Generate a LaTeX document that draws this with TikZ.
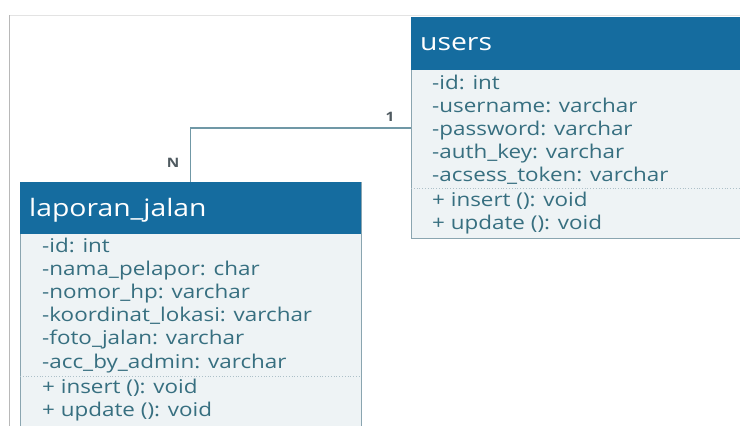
\documentclass[tikz,border=0pt]{standalone}
\usepackage{fontspec}
\setmainfont{Open Sans}
\newfontfamily\umlfont{Open Sans}[FakeStretch=1.18]
\definecolor{headblue}{HTML}{156C9F}
\definecolor{bodyfill}{HTML}{EEF3F5}
\definecolor{boxline}{HTML}{8AA5B0}
\definecolor{attrtext}{HTML}{376F80}
\definecolor{connline}{HTML}{7098A6}
\definecolor{framegray}{HTML}{B8B8B8}
\definecolor{labelgray}{HTML}{4F5A60}
\begin{document}
\begin{tikzpicture}[x=1pt,y=-1pt,
  classbody/.style={draw=boxline, line width=1pt, fill=bodyfill, inner sep=0pt, anchor=north west},
  classhead/.style={fill=headblue, inner sep=0pt, anchor=north west},
  classtitle/.style={text=white, font=\umlfont\fontsize{24}{24}\selectfont, inner sep=0pt, anchor=base west},
  attr/.style={text=attrtext, font=\umlfont\fontsize{19}{19}\selectfont, inner sep=0pt, anchor=base west},
  divider/.style={draw=boxline!70, line width=0.8pt, dotted},
  conn/.style={draw=connline, line width=1.1pt},
  mult/.style={text=labelgray, font=\umlfont\fontsize{13}{13}\selectfont\bfseries, inner sep=0pt}
]
\useasboundingbox (0,0) rectangle (740,426);
\begin{scope}
\clip (0,0) rectangle (740,426);
\fill[white] (0,0) rectangle (740,426);
% page frame
\draw[framegray!40, line width=0.8pt] (9.5,15) -- (740,15);
\draw[framegray, line width=1.2pt] (9.5,426) -- (9.5,15);

% class: users
\node[classbody, minimum width=345pt, minimum height=221pt] (users) at (410.5,17) {};
\node[classhead, minimum width=345pt, minimum height=53pt] (usershead) at (users.north west) {};
\node[classtitle] (userstitle) at (420,50) {users};
\foreach \t [count=\i] in {{-id: int},{-username: varchar},{-password: varchar},{-auth\_key: varchar},{-acsess\_token: varchar}}
  \node[attr] (ua\i) at (432,{89+23*(\i-1)}) {\t};
\draw[divider] (411,188.5) -- (740,188.5);
\node[attr] (um1) at (432,206) {+ insert (): void};
\node[attr] (um2) at (432,229) {+ update (): void};

% class: laporan_jalan
\node[classbody, minimum width=341pt, minimum height=270pt] (lap) at (19.5,182) {};
\node[classhead, minimum width=341pt, minimum height=52pt] (laphead) at (lap.north west) {};
\node[classtitle] (laptitle) at (29,216) {laporan\_jalan};
\foreach \t [count=\i] in {{-id: int},{-nama\_pelapor: char},{-nomor\_hp: varchar},{-koordinat\_lokasi: varchar},{-foto\_jalan: varchar},{-acc\_by\_admin: varchar}}
  \node[attr] (la\i) at (42,{252+23.2*(\i-1)}) {\t};
\draw[divider] (20,376.5) -- (360,376.5);
\node[attr] (lm1) at (42,393) {+ insert (): void};
\node[attr] (lm2) at (42,416.5) {+ update (): void};

% association
\draw[conn] (lap.north) |- (users.west);
\node[mult] (multn) at (173,163) {N};
\node[mult] (mult1) at (390,117) {1};
\end{scope}
\end{tikzpicture}
\end{document}
